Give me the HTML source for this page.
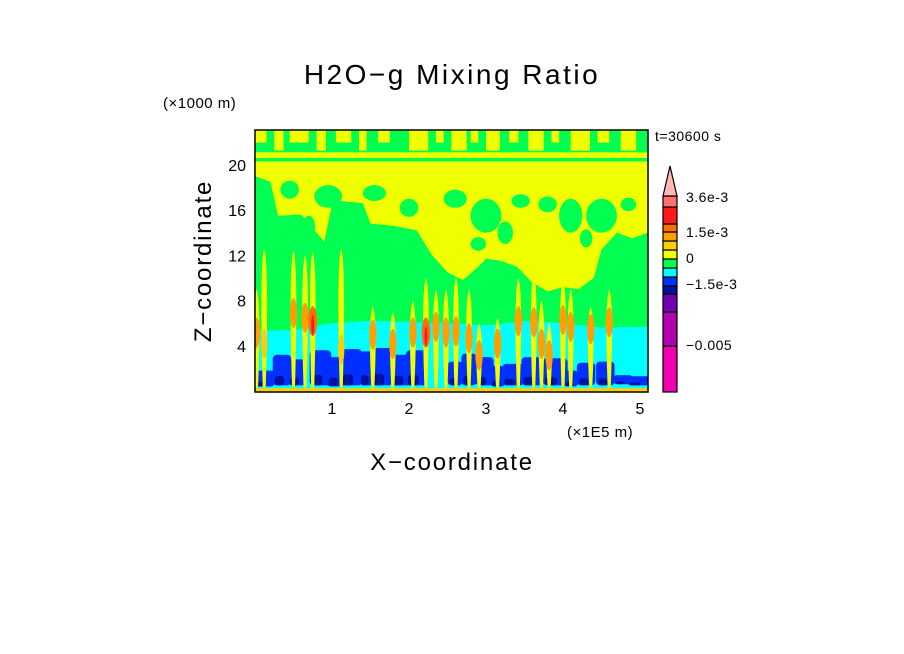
<!DOCTYPE html>
<html><head><meta charset="utf-8">
<style>
html,body{margin:0;padding:0;background:#fff;}
svg{display:block;}
text{font-family:"Liberation Sans",sans-serif;fill:#000;}
</style></head>
<body>
<svg id="chart" width="904" height="654" viewBox="0 0 904 654">
<text x="452" y="84" font-size="28" letter-spacing="2.5" text-anchor="middle">H2O−g Mixing Ratio</text>
<text x="163" y="108" font-size="15" letter-spacing="0.5">(×1000 m)</text>
<text x="655" y="141" font-size="14" letter-spacing="0.5">t=30600 s</text>
<text x="567" y="437" font-size="15" letter-spacing="0.5">(×1E5 m)</text>
<text x="452" y="470" font-size="24" letter-spacing="1.8" text-anchor="middle">X−coordinate</text>
<text transform="translate(211,261) rotate(-90)" font-size="24" letter-spacing="1.8" text-anchor="middle">Z−coordinate</text>
<defs><clipPath id="pc"><rect x="255" y="130" width="393" height="262"/></clipPath></defs>
<g id="field" clip-path="url(#pc)"></g>
<rect x="255" y="130" width="393" height="262" fill="none" stroke="#000" stroke-width="1.5"/>
<g id="axes"></g>
<g id="cbar"></g>
</svg>
<script>
// ---- data ----
const xTicks=[1,2,3,4,5];
const yTicks=[4,8,12,16,20];
// lower edge (km) of upper moist (yellow) layer along x (1e5 m)
const upperX=[0,0.2,0.3,0.6,0.9,1.0,1.1,1.4,1.5,1.8,2.1,2.3,2.5,2.7,2.9,3.0,3.2,3.4,3.6,3.8,4.0,4.2,4.4,4.5,4.7,4.9,5.1];
const upperZ=[19,18.5,15.5,15.6,13.2,16.5,16.8,16.6,14.8,14.6,14.2,12,10.5,9.8,11,11.7,11.5,11,9.6,8.8,9.2,9,10,12.5,14,13.5,14];
// green (moister-than-layer) holes inside upper layer: x, z, half-width, half-height
const holeX=[0.1,0.45,0.95,1.25,1.55,2.0,2.6,3.0,3.25,3.45,3.8,4.1,4.5,4.85,0.7,1.9,2.9,4.3];
const holeZ=[17.5,17.8,17.2,15.5,17.5,16.2,17,15.5,14,16.8,16.5,15.5,15.5,16.5,14.5,13.5,13,13.5];
const holeW=[0.12,0.12,0.18,0.12,0.15,0.12,0.15,0.2,0.1,0.12,0.12,0.15,0.2,0.1,0.08,0.1,0.1,0.08];
const holeH=[1.2,0.8,1.0,1.2,0.7,0.8,0.8,1.5,1.0,0.6,0.7,1.5,1.5,0.6,1.0,0.6,0.6,0.8];
// top strip yellow patches (x start, width) in 1e5 m
const topX=[0.0,0.25,0.45,0.8,1.05,1.35,1.6,2.0,2.35,2.55,2.8,3.0,3.3,3.55,3.85,4.1,4.45,4.75];
const topW=[0.15,0.12,0.25,0.12,0.2,0.1,0.15,0.25,0.1,0.2,0.1,0.18,0.12,0.2,0.1,0.25,0.15,0.2];
// top of dry (cyan) boundary layer
const cyanX=[0,0.5,1.0,1.5,2.0,2.5,3.0,3.5,4.0,4.5,5.1];
const cyanZ=[5.3,5.4,6.0,6.2,6.1,6.0,5.8,6.2,6.0,5.6,5.7];
// plumes: x position, top height of yellow plume (km), top of orange core (km), intensity
const plumeX=[0.02,0.12,0.5,0.65,0.75,1.12,1.53,1.79,2.05,2.22,2.35,2.48,2.61,2.78,2.91,3.15,3.42,3.62,3.72,3.82,4.0,4.1,4.36,4.6];
const plumeTopZ=[9,12.6,12.4,12,12.3,12.6,7.5,7,8,10,9,9,10,9,6,6.5,10,10.5,8,6,10,9,7.5,9];
const plumeCoreZ=[6.5,5.5,8.2,7.8,7.5,5,6.3,5.5,6.5,6.5,7,6.5,6.6,6,4.5,5.5,7.5,7.4,5.5,4.5,7.6,7,6.8,7.4];
const plumeLevel=[2,1,2,2,3,1,2,2,2,3,2,2,2,2,2,2,2,2,2,2,2,2,2,2];
// blue (very dry) blobs: x centre, bottom z, top z, half-width
const blobX=[0.12,0.35,0.55,0.85,1.05,1.25,1.45,1.65,1.9,2.1,2.6,2.78,2.98,3.15,3.35,3.6,3.9,4.1,4.3,4.55,4.78,4.98];
const blobZ0=[0.4,0.5,0.5,0.5,0.4,0.5,0.5,0.5,0.5,0.5,0.5,0.5,0.5,0.4,0.5,0.5,0.5,0.4,0.5,0.5,0.6,0.5];
const blobZ1=[1.8,3.2,2.8,3.6,3.0,3.7,3.5,3.8,3.2,3.6,2.6,3.3,3.0,2.2,2.4,3.0,2.9,1.8,2.5,2.6,1.4,1.3];
const blobW=[0.14,0.12,0.12,0.14,0.12,0.14,0.1,0.14,0.14,0.14,0.1,0.1,0.12,0.1,0.14,0.14,0.16,0.1,0.12,0.12,0.13,0.15];
// colorbar
const cbColors=["#ee00b0","#b000b0","#7000b0","#0010a0","#0030ff","#00ffff","#00ff50","#f0ff00","#ffcc00","#ffa000","#ff7000","#ff1a1a","#ff7070"];
const cbEdges=[392,346,312,294,286,277,268,259,250,241,232,224,207,196];
const cbLabels=["3.6e-3","1.5e-3","0","−1.5e-3","−0.005"];
const cbLabelY=[197,232,258,284,345];

const X=v=>255+v*77, Y=v=>391-v*11.31;
const NS="http://www.w3.org/2000/svg";
function mk(tag,attrs,parent){const e=document.createElementNS(NS,tag);for(const k in attrs)e.setAttribute(k,attrs[k]);parent.appendChild(e);return e;}
const F=document.getElementById('field'),A=document.getElementById('axes'),C=document.getElementById('cbar');

mk('rect',{x:255,y:130,width:393,height:262,fill:'#00ff50'},F);
let d=`M${X(0)},${Y(20.3)} `;upperX.forEach((x,i)=>d+=`L${X(x)},${Y(upperZ[i])} `);d+=`L${X(5.2)},${Y(20.3)}Z`;
let e=mk('path',{d,fill:'#f0ff00'},F);


holeX.forEach((x,i)=>{
  const h=mk('ellipse',{cx:X(x),cy:Y(holeZ[i]),rx:holeW[i]*77,ry:holeH[i]*11.31,fill:'#00ff50'},F);
  
  
});
topX.forEach((x,i)=>{
  const r=mk('rect',{x:X(x),y:Y(23.2),width:topW[i]*77,height:(i%2?22:14),fill:'#f0ff00'},F);
  
  
});
mk('rect',{x:255,y:Y(21.1),width:393,height:6,fill:'#f0ff00'},F);
mk('rect',{x:255,y:Y(20.6),width:393,height:3,fill:'#00ff50'},F);
d=`M${X(0)},${Y(0)} `;cyanX.forEach((x,i)=>d+=`L${X(x)},${Y(cyanZ[i])} `);d+=`L${X(5.2)},${Y(0)}Z`;
e=mk('path',{d,fill:'#00ffff'},F);


blobX.forEach((x,i)=>{
  const x0=X(x-blobW[i]),x1=X(x+blobW[i]),y0=Y(blobZ0[i]),y1=Y(blobZ1[i]);
  const b=mk('rect',{x:x0,y:y1,width:x1-x0,height:y0-y1,rx:4,fill:'#0030ff'},F);
  
  
  const h=(y0-y1)*0.3;
  mk('rect',{x:x0+2,y:y0-h,width:Math.max(2,(x1-x0)*0.5),height:h,rx:3,fill:'#0010a0'},F);
});
const coreCol=['#ffcc00','#ffa000','#ff7000'];
plumeX.forEach((x,i)=>{
  const cx=X(x),top=Y(plumeTopZ[i]),bot=Y(0.3),w=3.5;
  const p=mk('path',{d:`M${cx-1.5},${bot} C${cx-w},${(top+bot)/2} ${cx-w},${top+10} ${cx},${top} C${cx+w},${top+10} ${cx+w},${(top+bot)/2} ${cx+1.5},${bot}Z`,fill:'#f0ff00'},F);
  
  
  const ct=Y(plumeCoreZ[i]),cb=Math.min(ct+30,Y(1.5));
  mk('ellipse',{cx,cy:(ct+cb)/2,rx:2.5+plumeLevel[i]*0.6,ry:(cb-ct)/2,fill:coreCol[plumeLevel[i]-1]},F);
  if(plumeLevel[i]>=3)mk('ellipse',{cx,cy:(ct+cb)/2+4,rx:1.5,ry:(cb-ct)/3,fill:'#ff1a1a'},F);
});
mk('rect',{x:255,y:Y(0.25),width:393,height:4,fill:'#ffcc00'},F);

xTicks.forEach(v=>{const t=mk('text',{x:X(v),y:414,'font-size':16,'text-anchor':'middle'},A);t.textContent=v;

});
yTicks.forEach(v=>{const t=mk('text',{x:246,y:Y(v)+6,'font-size':16,'text-anchor':'end'},A);t.textContent=v;

});

cbColors.forEach((c,i)=>{const r=mk('rect',{x:663,y:cbEdges[i+1],width:14,height:cbEdges[i]-cbEdges[i+1],fill:c,stroke:'#000','stroke-width':1.2},C);

});
const tri=mk('path',{d:'M663,196 L670,166 L677,196Z',fill:'#ffb8b8',stroke:'#000','stroke-width':1.2},C);


cbLabels.forEach((l,i)=>{const t=mk('text',{x:686,y:cbLabelY[i]+5,'font-size':14,'letter-spacing':0.5},C);t.textContent=l;

});
</script>
</body></html>
